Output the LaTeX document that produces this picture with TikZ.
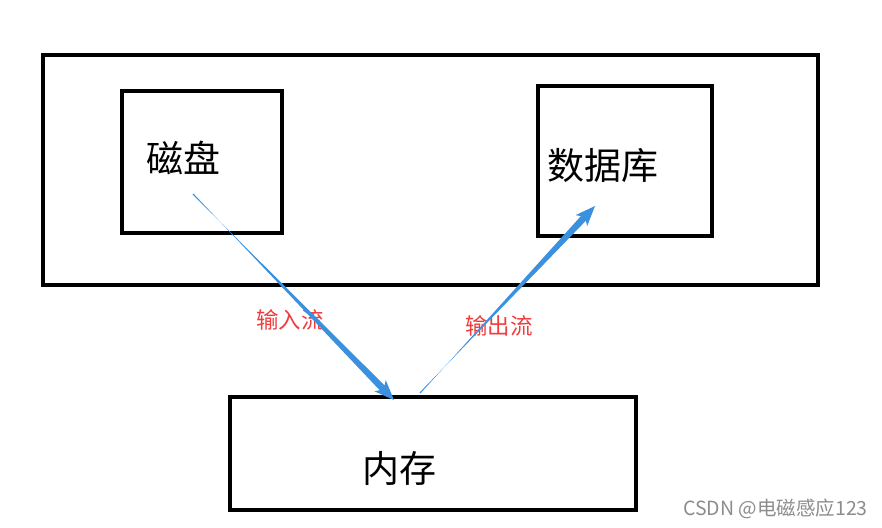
\documentclass[tikz,border=0pt]{standalone}
\usepackage{fontspec}
\setmainfont{Noto Sans CJK SC}
\usetikzlibrary{calc}
\definecolor{flowblue}{RGB}{60,145,222}
\definecolor{flowred}{RGB}{240,60,60}

\tikzset{
  box/.style={draw, line width=4pt, inner sep=0pt},
  bigtext/.style={font=\fontsize{37}{42}\selectfont, inner sep=0pt},
  flowtext/.style={font=\fontsize{22.5}{26}\selectfont, text=flowred, inner sep=0pt},
}

% tapered arrow: #1 start, #2 tip
\newcommand{\taperarrow}[2]{%
  \fill[flowblue] ($(#1)!0.6pt!90:(#2)$)
    -- ($($(#2)!17pt!(#1)$)!3.4pt!-90:(#2)$)
    -- ($($(#2)!20pt!(#1)$)!8pt!-90:(#2)$)
    -- (#2)
    -- ($($(#2)!20pt!(#1)$)!8pt!90:(#2)$)
    -- ($($(#2)!17pt!(#1)$)!3.4pt!90:(#2)$)
    -- ($(#1)!0.6pt!-90:(#2)$) -- cycle;}

\begin{document}
\begin{tikzpicture}[x=1pt,y=-1pt]
      \useasboundingbox (0,0) rectangle (882,527);
      % boxes
      \node[box, minimum width=775, minimum height=230] (disk area) at (430.5,170) {};
      \node[box, minimum width=160, minimum height=142] (disk) at (202,162) {};
      \node[box, minimum width=174, minimum height=150] (db) at (625,161) {};
      \node[box, minimum width=406, minimum height=113] (mem) at (433,453.5) {};
      % texts
      \node[bigtext] (disk txt) at (183,158) {磁盘};
      \node[bigtext] (db txt) at (603,166) {数据库};
      \node[bigtext] (mem txt) at (399,468) {内存};
      \node[flowtext] (in txt) at (290,320) {输入流};
      \node[flowtext] (out txt) at (499,326) {输出流};
      \node[font=\fontsize{19.5}{22}\selectfont, text=black!45, inner sep=0pt] (mark) at (775.5,509) {CSDN @电磁感应123};
      % arrows
      \coordinate (in start) at (193,194);
      \coordinate (in tip) at ($(mem.north west)+(166,5)$);
      \coordinate (out start) at ($(mem.north west)+(192,-2)$);
      \coordinate (out tip) at (595,206);
      \taperarrow{in start}{in tip}
      \taperarrow{out start}{out tip}
\end{tikzpicture}
\end{document}
